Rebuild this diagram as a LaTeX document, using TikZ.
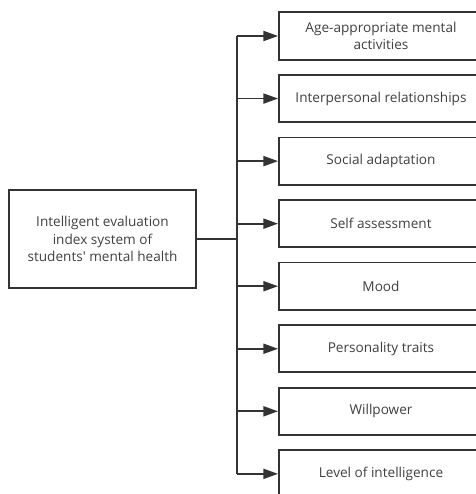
\documentclass[tikz,border=0pt]{standalone}
\usepackage{fontspec}
\setmainfont{Open Sans}
\usetikzlibrary{arrows.meta}

\begin{document}
\begin{tikzpicture}[x=0.75pt, y=-0.75pt, line width=1.4pt, draw=black!80,
    every node/.style={font=\fontsize{10.2}{13.2}\selectfont, text=black!75},
    itembox/.style={draw, minimum width=153pt, minimum height=35.5pt, inner sep=2pt, align=center},
    rootbox/.style={draw, minimum width=140pt, minimum height=73.5pt, inner sep=2pt, align=center},
    branch/.style={-{Triangle[length=11pt, width=7.5pt]}}]
	% --- page frame (boxes run off the right edge) ---
	\clip (0,0) rectangle (476,494);
	
	% --- root node ---
	\node[rootbox] (root) at (102.5,239) {Intelligent evaluation\\index system of\\students\textquotesingle{} mental health};
	
	% --- index items ---
	\foreach \i/\txt in {1/{Age-appropriate mental\\activities}, 2/Interpersonal relationships, 3/Social adaptation, 4/Self assessment, 5/Mood, 6/Personality traits, 7/Willpower, 8/Level of intelligence} {
		\node[itembox] (b\i) at (381, 36+62.55*\i-62.55) {\txt};
		\coordinate (t\i) at (237, 36+62.55*\i-62.55);
		\draw[branch] (t\i) -- (b\i.west);
	}
	
	% --- trunk ---
	\coordinate (j) at (237,239);
	\draw (root.east) -- (j);
	\draw (t1) -- (t8);
\end{tikzpicture}
\end{document}
